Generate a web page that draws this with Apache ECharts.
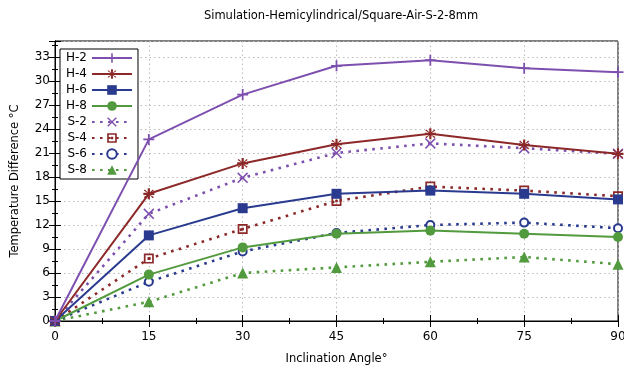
<!DOCTYPE html>
<html>
<head>
<meta charset="utf-8">
<script src="https://cdn.jsdelivr.net/npm/echarts@6/dist/echarts.min.js"></script>
<style>
html,body{margin:0;padding:0;background:#fff;}
#c{width:624px;height:372px;}
</style>
</head>
<body>
<div id="c"></div>
<script>
var angles = [0, 15, 30, 45, 60, 75, 90];
var seriesNames = ['H-2', 'H-4', 'H-6', 'H-8', 'S-2', 'S-4', 'S-6', 'S-8'];
var H2 = [0, 22.7, 28.3, 31.9, 32.6, 31.6, 31.1];
var H4 = [0, 15.9, 19.7, 22.1, 23.4, 22.0, 20.9];
var H6 = [0, 10.7, 14.1, 15.9, 16.3, 15.9, 15.2];
var H8 = [0, 5.8, 9.2, 10.9, 11.3, 10.9, 10.5];
var S2 = [0, 13.4, 17.9, 21.0, 22.2, 21.6, 20.9];
var S4 = [0, 7.8, 11.5, 15.0, 16.8, 16.3, 15.6];
var S6 = [0, 4.9, 8.7, 11.0, 12.0, 12.3, 11.6];
var S8 = [0, 2.4, 6.0, 6.7, 7.4, 8.0, 7.1];
var allValues = [H2, H4, H6, H8, S2, S4, S6, S8];

var purple = '#7D50AF', red = '#8C2828', navy = '#2A3B8F', green = '#529A3E';
var colors = [purple, red, navy, green, purple, red, navy, green];
var symPlus = 'path://M4.2,0 H5.8 V4.2 H10 V5.8 H5.8 V10 H4.2 V5.8 H0 V4.2 H4.2 Z';
var symCross = 'path://M1,0 L5,4 L9,0 L10,1 L6,5 L10,9 L9,10 L5,6 L1,10 L0,9 L4,5 L0,1 Z';
var symStar = 'path://M4,0 H6 V3.6 L8.6,1 L9.6,2 L6.4,4 H10 V6 H6.4 L9.6,8 L8.6,9 L6,6.4 V10 H4 V6.4 L1.4,9 L0.4,8 L3.6,6 H0 V4 H3.6 L0.4,2 L1.4,1 L4,3.6 Z';
var symBoxDot = 'path://M0,0 H10 V10 H0 Z M1.7,1.7 V8.3 H8.3 V1.7 Z M3.7,3.7 H6.3 V6.3 H3.7 Z';
var symbols = [symPlus, symStar, 'rect', 'circle', symCross, symBoxDot, 'emptyCircle', 'triangle'];
var symSizes = [11, 11, 10, 10, 11, 10, 8, 11];

var font = 'DejaVu Sans';
var series = seriesNames.map(function (n, i) {
  var dotted = i >= 4;
  return {
    name: n,
    type: 'line',
    data: angles.map(function (a, k) { return [a, allValues[i][k]]; }),
    symbol: symbols[i],
    symbolSize: symSizes[i],
    showAllSymbol: true,
    color: colors[i],
    lineStyle: dotted ? { width: 2.6, type: [2.6, 5.4], color: colors[i] } : { width: 2, color: colors[i] },
    itemStyle: symbols[i] === 'emptyCircle' ? { color: colors[i], borderColor: colors[i], borderWidth: 2 } : { color: colors[i] },
    emphasis: { disabled: true },
    animation: false,
    z: 10 - i
  };
});

var tickCommon = { show: true, inside: true, length: 6, lineStyle: { color: '#000', width: 1 } };
var minorCommon = { show: true, splitNumber: 2, length: 3, lineStyle: { color: '#000', width: 1 } };

var chart = echarts.init(document.getElementById('c'));
chart.setOption({
  animation: false,
  backgroundColor: '#fff',
  title: {
    text: 'Simulation-Hemicylindrical/Square-Air-S-2-8mm',
    left: 336, top: 5, textAlign: 'center',
    textStyle: { fontFamily: font, fontSize: 11.5, fontWeight: 'normal', color: '#000' }
  },
  legend: {
    orient: 'vertical',
    left: 60, top: 49,
    align: 'right',
    backgroundColor: '#fff',
    borderColor: '#000', borderWidth: 1, borderRadius: 0,
    padding: [3, 5, 3, 6],
    itemGap: 4,
    itemWidth: 40, itemHeight: 12,
    textStyle: { fontFamily: font, fontSize: 12, color: '#000' },
    data: seriesNames
  },
  grid: { left: 55, right: 6, top: 41, bottom: 51, outerBoundsMode: 'none', containLabel: false, show: true, borderColor: '#000', borderWidth: 1, backgroundColor: 'transparent' },
  xAxis: [{
    type: 'value', min: 0, max: 90, interval: 15,
    name: 'Inclination Angle°', nameLocation: 'middle', nameGap: 32,
    nameTextStyle: { fontFamily: font, fontSize: 11.5, color: '#000' },
    axisLine: { show: true, lineStyle: { color: '#000' } },
    axisTick: tickCommon, minorTick: minorCommon,
    axisLabel: { fontFamily: font, fontSize: 12, color: '#000', margin: 10 },
    splitLine: { show: true, lineStyle: { color: '#bbb', type: [1.5, 3], width: 1 } }
  }, {
    type: 'value', min: 0, max: 90, interval: 15, position: 'top',
    axisLine: { show: true, lineStyle: { color: '#000' } },
    axisTick: tickCommon, minorTick: minorCommon,
    axisLabel: { show: false }, splitLine: { show: false }
  }],
  yAxis: [{
    type: 'value', min: 0, max: 35, interval: 3,
    name: 'Temperature Difference °C', nameLocation: 'middle', nameGap: 34,
    nameTextStyle: { fontFamily: font, fontSize: 11.5, color: '#000' },
    axisLine: { show: true, lineStyle: { color: '#000' } },
    axisTick: tickCommon, minorTick: minorCommon,
    axisLabel: { fontFamily: font, fontSize: 12, color: '#000', margin: 5, showMaxLabel: false },
    splitLine: { show: true, lineStyle: { color: '#bbb', type: [1.5, 3], width: 1 } }
  }, {
    type: 'value', min: 0, max: 35, interval: 3, position: 'right',
    axisLine: { show: true, lineStyle: { color: '#000' } },
    axisTick: tickCommon, minorTick: minorCommon,
    axisLabel: { show: false }, splitLine: { show: false }
  }],
  series: series
});
</script>
</body>
</html>
